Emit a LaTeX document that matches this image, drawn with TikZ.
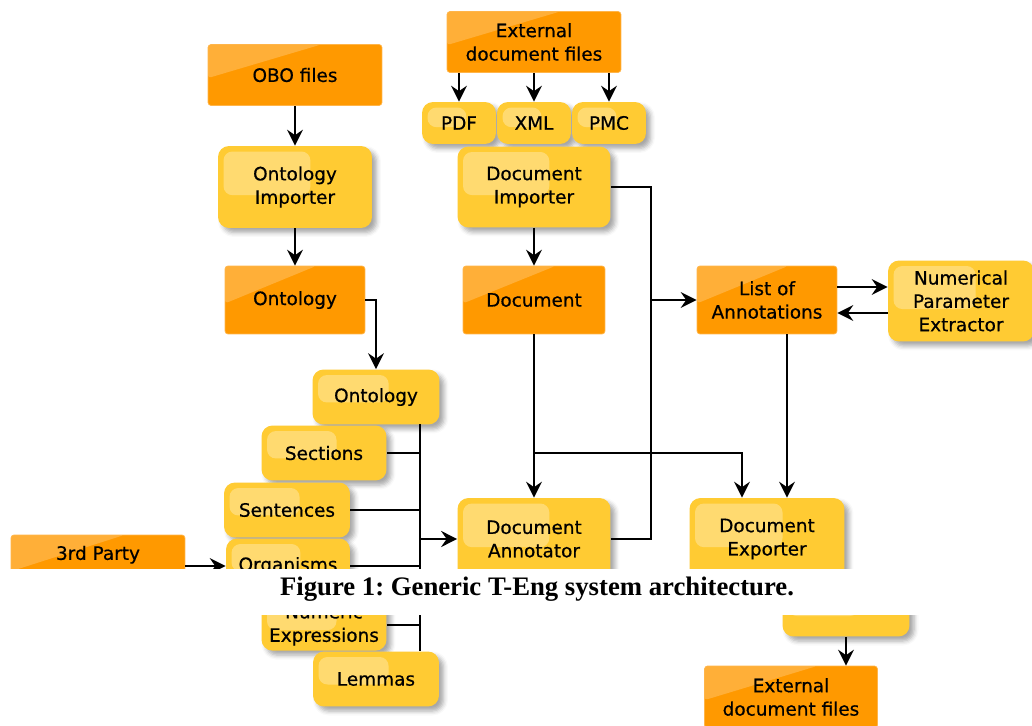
\documentclass[tikz,border=0pt]{standalone}
\usepackage{fontspec}
\newfontfamily\tengsans{DejaVu Sans}[FakeBold=0.6]
\newfontfamily\tengserif{Liberation Serif}
\usepackage{tikz}
\usetikzlibrary{arrows.meta,positioning,calc,shadows.blur}
\definecolor{TEngOrange}{HTML}{FF9900}
\definecolor{TEngOrangeEdge}{HTML}{FFB54A}
\definecolor{TEngYellow}{HTML}{FFCB33}
\tikzset{
  tbase/.style={align=center,inner sep=1mm,font=\tengsans\fontsize{10.5}{13.3}\selectfont},
  torange/.style={tbase,fill=TEngOrange,draw=TEngOrangeEdge,line width=0.4pt,rounded corners=0.6mm,
    path picture={\fill[white,opacity=0.22] (path picture bounding box.north west)
      -- ($(path picture bounding box.north west)!0.65!(path picture bounding box.north east)$)
      -- ($(path picture bounding box.north west)!0.55!(path picture bounding box.south west)$) -- cycle;}},
  tyellow/.style={tbase,fill=TEngYellow,rounded corners=2.2mm,
    blur shadow={shadow xshift=0.9mm,shadow yshift=-0.9mm,shadow blur radius=0.9mm,shadow opacity=35},
    path picture={\fill[white,opacity=0.3,rounded corners=1.8mm]
      ($(path picture bounding box.north west)+(1.1mm,-1.1mm)$) rectangle
      ($(path picture bounding box.north west)!0.6!(path picture bounding box.south east)$);}},
  tarrow/.style={-{Stealth[length=3.2mm,width=3.2mm,inset=1.1mm]},line width=0.9pt,black},
  tline/.style={line width=0.9pt,black},
  tcaption/.style={font=\tengserif\bfseries\fontsize{15.2}{18}\selectfont\frenchspacing,inner sep=0pt}
}

\begin{document}
\begin{tikzpicture}[x=0.02cm,y=-0.02cm]
  \useasboundingbox (0,0) rectangle (1032,726);
  \clip (0,0) rectangle (1032,726);

  \node[torange,minimum width=3.48cm,minimum height=1.22cm] (obo) at (295,75) {OBO files};
  \node[tyellow,minimum width=3.08cm,minimum height=1.64cm] (ontimp) at (295,187) {Ontology\\Importer};
  \node[torange,minimum width=2.8cm,minimum height=1.36cm] (ontorange) at (295,300) {Ontology};

  \node[torange,minimum width=3.48cm,minimum height=1.22cm] (extin) at (534,42) {External\\document files};
  \node[tyellow,minimum width=1.48cm,minimum height=0.84cm] (pdf) at (459,123) {PDF};
  \node[tyellow,minimum width=1.48cm,minimum height=0.84cm] (xml) at (534,123) {XML};
  \node[tyellow,minimum width=1.48cm,minimum height=0.84cm] (pmc) at (609,123) {PMC};
  \node[tyellow,minimum width=3.06cm,minimum height=1.62cm] (docimp) at (534,187) {Document\\Importer};
  \node[torange,minimum width=2.84cm,minimum height=1.36cm] (doc) at (534,300) {Document};

  \node[torange,minimum width=2.8cm,minimum height=1.36cm] (list) at (767,300) {List of\\Annotations};
  \node[tyellow,minimum width=2.92cm,minimum height=1.62cm] (npe) at (961,301) {Numerical\\Parameter\\Extractor};

  \node[tyellow,minimum width=2.54cm,minimum height=1.1cm] (ontyel) at (376,397) {Ontology};
  \node[tyellow,minimum width=2.5cm,minimum height=1.1cm] (sections) at (324,453) {Sections};
  \node[tyellow,minimum width=2.52cm,minimum height=1.1cm] (sentences) at (287,510) {Sentences};
  \node[tyellow,minimum width=2.48cm,minimum height=1.1cm] (organisms) at (288,566) {Organisms};
  \node[tyellow,minimum width=2.5cm,minimum height=1.0cm] (numeric) at (324,625) {Numeric\\Expressions};
  \node[tyellow,minimum width=2.52cm,minimum height=1.1cm] (lemmas) at (376,679) {Lemmas};

  \node[torange,minimum width=3.48cm,minimum height=1.32cm] (third) at (98,568) {3rd Party\\\strut};

  \node[tyellow,minimum width=3.06cm,minimum height=1.64cm] (annot) at (534,539) {Document\\Annotator};
  \node[tyellow,minimum width=3.1cm,minimum height=1.64cm] (exporter) at (767,539) {Document\\Exporter};
  \node[tyellow,minimum width=2.54cm,minimum height=1.02cm] (hidden) at (846,611) {};
  \node[torange,minimum width=3.46cm,minimum height=1.24cm] (extout) at (791,697) {External\\document files};

  \coordinate (bustop) at (420,424);
  \coordinate (busbot) at (420,651);
  \coordinate (busmid) at (420,539);
  \coordinate (split) at (534,453);
  \coordinate (jr) at (651,300);

  \draw[tarrow] (obo) -- (ontimp);
  \draw[tarrow] (ontimp) -- (ontorange);
  \draw[tarrow] (ontorange.east) -| (ontyel.north);
  \foreach \n in {pdf,xml,pmc}{
    \draw[tarrow] (extin.south -| \n.north) -- (\n.north);
  }
  \draw[tarrow] (docimp) -- (doc);
  \draw[tarrow] (docimp.east) -| (jr) -- (list.west);
  \draw[tline] (annot.east) -| (jr);
  \draw[tarrow] ($(list.east)+(0,-13)$) -- ($(npe.west)+(0,-14)$);
  \draw[tarrow] ($(npe.west)+(0,12)$) -- ($(list.east)+(0,13)$);
  \draw[tarrow] (doc) -- (annot);
  \draw[tarrow] (split) -| ($(exporter.north)+(-25,0)$);
  \draw[tarrow] ($(list.south)+(20,0)$) -- ($(exporter.north)+(20,0)$);

  \draw[tline] (bustop) -- (busbot);
  \foreach \n in {sections,sentences,organisms,numeric}{
    \draw[tline] (\n.east) -- (\n.east -| bustop);
  }
  \draw[tarrow,line width=1.5pt] (busmid) -- (annot.west);
  \draw[tarrow] (third.east |- organisms.west) -- (organisms.west);
  \draw[tarrow] (hidden.south) -- (hidden.south |- extout.north);

  \fill[white] (0,569) rectangle (1032,615);
  \node[tcaption] (caption) at (537,589) {Figure 1: Generic T-Eng system architecture.};
\end{tikzpicture}
\end{document}
